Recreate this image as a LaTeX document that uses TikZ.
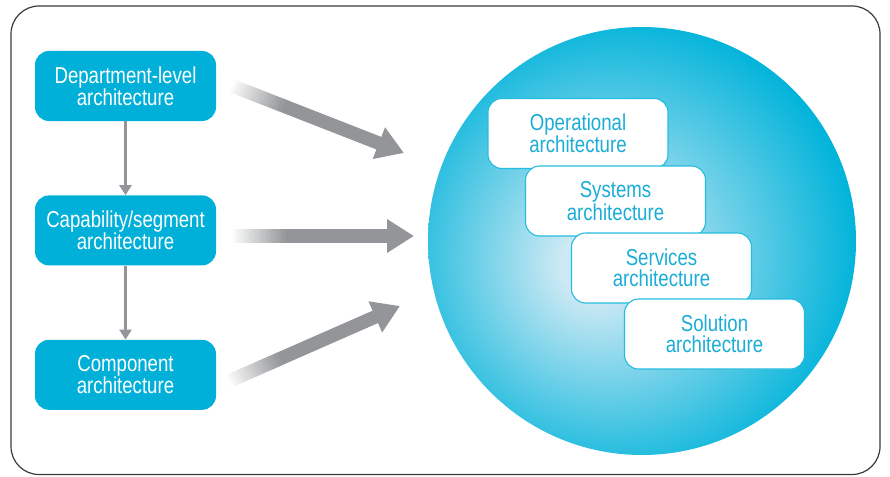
\documentclass[tikz,border=0pt]{standalone}
\usepackage{xcolor}
\usepackage{fontspec}
\usepackage{tikz}
\usetikzlibrary{positioning,calc,arrows.meta}
\newfontfamily\condsans{Liberation Sans}[FakeStretch=0.81]
\definecolor{boxcyan}{HTML}{00B0D9}
\definecolor{ballcyan}{HTML}{00B3DA}
\definecolor{ballcentre}{HTML}{CDE9F4}
\definecolor{labelcyan}{HTML}{1AADD6}
\definecolor{arrowgray}{HTML}{939598}
\definecolor{framegray}{HTML}{3A3A3A}
\pgfdeclareradialshading{ballshade}{\pgfpoint{-6bp}{-3bp}}{%
  color(0bp)=(ballcentre); color(4bp)=(ballcentre);
  color(28bp)=(ballcyan); color(50bp)=(ballcyan)}

\begin{document}
\begin{tikzpicture}[
  x=1pt, y=-1pt,
  font={\condsans\fontsize{23}{21}\selectfont},
  level/.style={fill=boxcyan, text=white, rounded corners=14pt, align=center,
    minimum width=181pt, minimum height=70pt, inner sep=0pt},
  view/.style={draw=boxcyan!85, line width=1.1pt, fill=white, text=labelcyan,
    rounded corners=14pt, align=center, minimum width=180pt, minimum height=70pt, inner sep=0pt},
  link/.style={-{Triangle[width=12pt,length=10pt]}, line width=2.6pt, arrowgray},
  bigarr/.style={-{Triangle[width=32pt,length=27pt]}, line width=13.5pt, arrowgray}
]
\useasboundingbox (0,0) rectangle (890,476);
\draw[framegray, line width=1.2pt, rounded corners=28pt] (11,6) rectangle (880,474.5);

% architecture levels
\node[level] (dept) at (125.5,86) {Department-level\\architecture};
\node[level, below=74pt of dept] (seg) {Capability/segment\\architecture};
\node[level, below=74pt of seg] (comp) {Component\\architecture};
\draw[link] (dept) -- (seg);
\draw[link] (seg) -- (comp);

% the architecture views
\node[circle, inner sep=0pt, minimum size=428pt, shading=ballshade] (ball) at (642,241) {};
\node[view] (oper) at (578,133.5) {Operational\\architecture};
\node[view] (sys) at (615.5,201) {Systems\\architecture};
\node[view] (serv) at (661.5,268) {Services\\architecture};
\node[view] (sol) at (714.5,334) {Solution\\architecture};

% fat arrows into the ball, fading in from white
\coordinate (s1) at (230,85);  \coordinate (e1) at (404,153);
\coordinate (s2) at (230,236); \coordinate (e2) at (414,236);
\coordinate (s3) at (227,382); \coordinate (e3) at (400,306);
\foreach \s/\e in {s1/e1, s2/e2, s3/e3} {
  \draw[bigarr] ($(\s)!0.3!(\e)$) -- (\e);
  \foreach \i [evaluate=\i as \f using \i*0.015,
               evaluate=\i as \g using (\i+1.4)*0.015,
               evaluate=\i as \c using \i*5] in {0,...,19}
    \draw[line width=13.5pt, arrowgray!\c!white] ($(\s)!\f!(\e)$) -- ($(\s)!\g!(\e)$);
}
\end{tikzpicture}
\end{document}
